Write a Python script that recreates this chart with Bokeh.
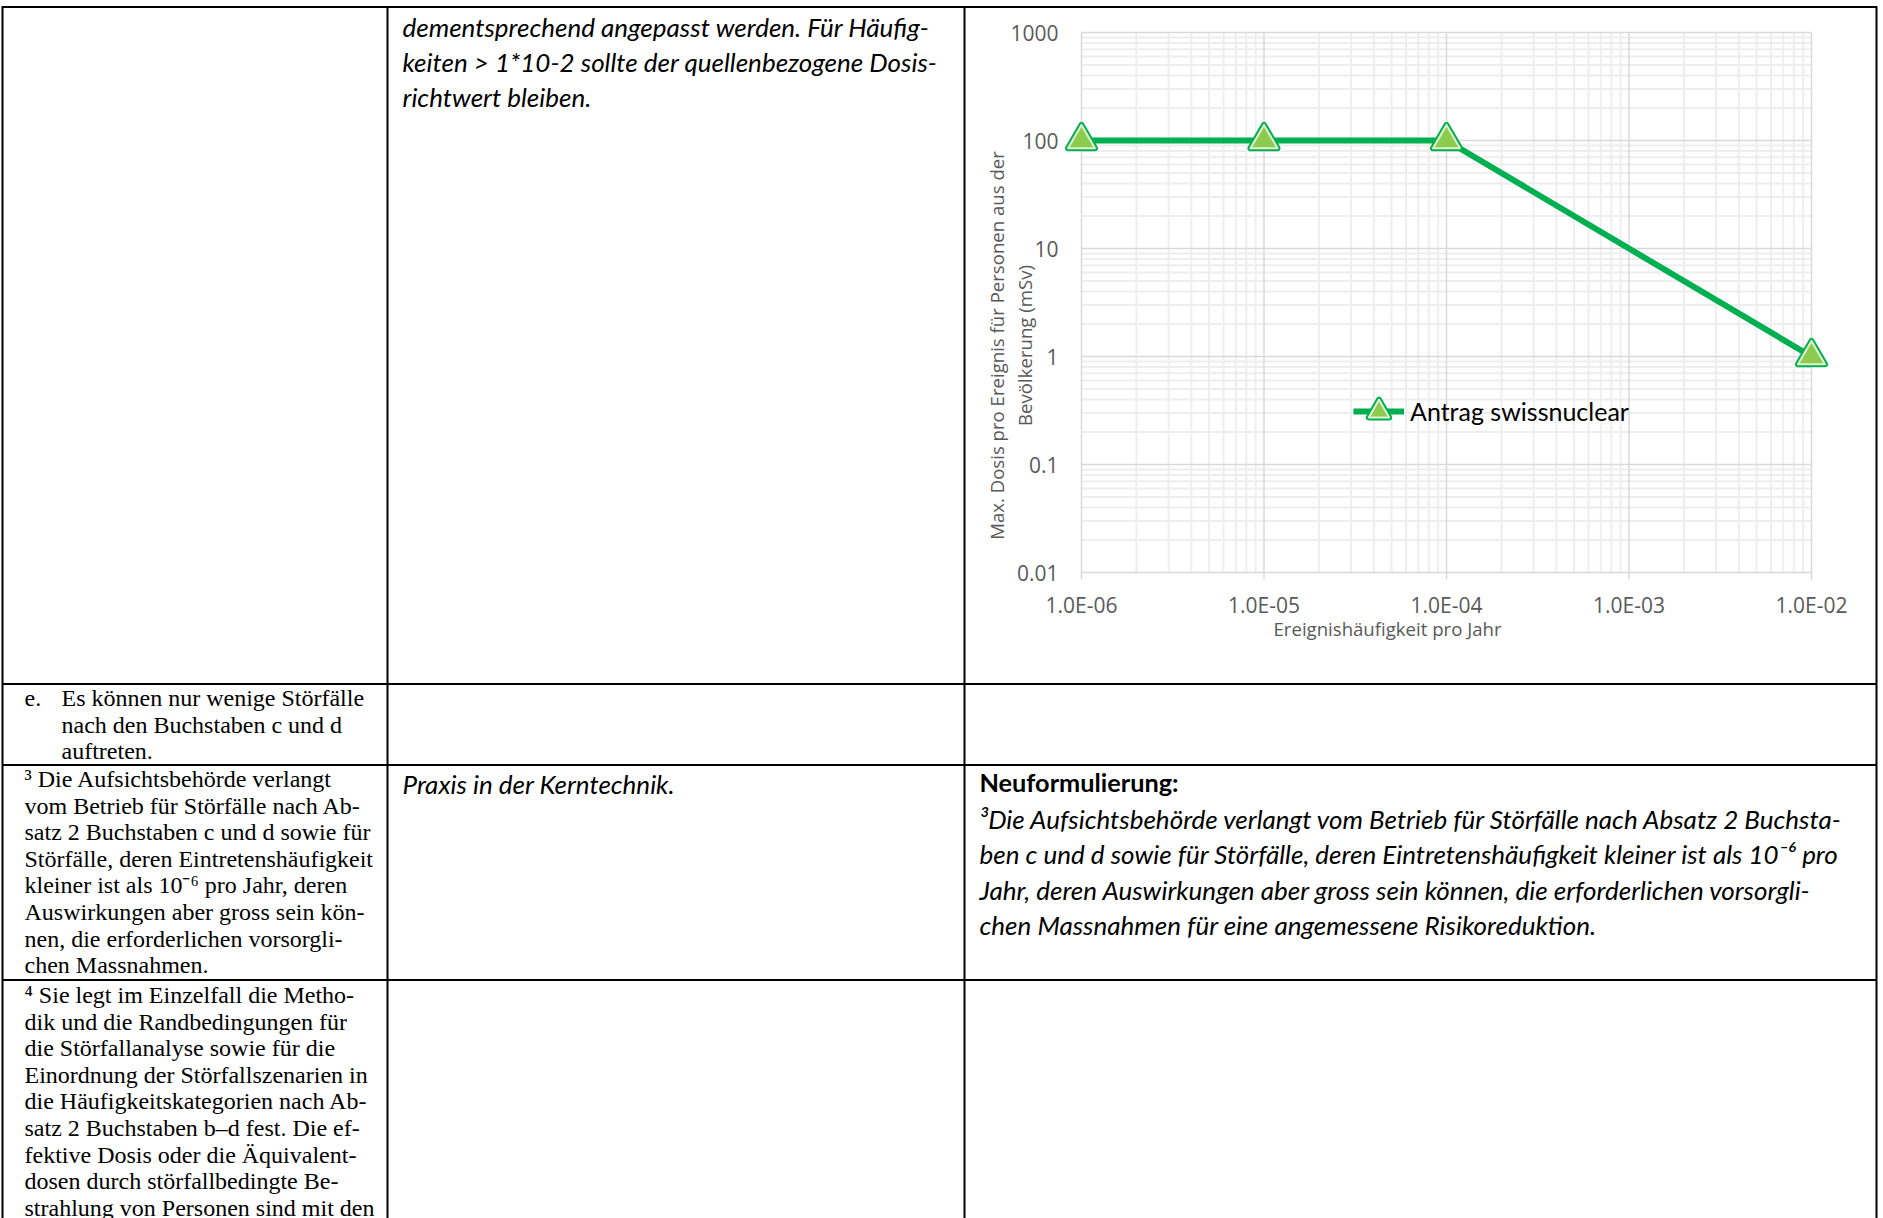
import math

from bokeh.core.properties import value
from bokeh.embed import file_html
from bokeh.models import Legend, LegendItem, LogScale, Range1d
from bokeh.plotting import figure
from bokeh.resources import INLINE

W, H = 1883, 1218

# ---------------------------------------------------------------- chart data
freq = [1e-6, 1e-5, 1e-4, 1e-2]          # Ereignishäufigkeit pro Jahr
dose = [100, 100, 100, 1]                # max. Dosis (mSv)
series_name = "Antrag swissnuclear"

x_ticks = [1e-6, 1e-5, 1e-4, 1e-3, 1e-2]
x_tick_labels = ["1.0E-06", "1.0E-05", "1.0E-04", "1.0E-03", "1.0E-02"]
y_ticks = [0.01, 0.1, 1, 10, 100, 1000]
y_tick_labels = ["0.01", "0.1", "1", "10", "100", "1000"]

x_title = "Ereignishäufigkeit pro Jahr"
y_title = ["Max. Dosis pro Ereignis für Personen aus der", "Bevölkerung (mSv)"]

# ---------------------------------------------------------------- table text
mid_top = [
    "dementsprechend angepasst werden. Für Häufig-",
    "keiten > 1*10-2 sollte der quellenbezogene Dosis-",
    "richtwert bleiben.",
]
row2_item = "e."
row2_left = [
    "Es können nur wenige Störfälle",
    "nach den Buchstaben c und d",
    "auftreten.",
]
row3_left = [
    "³ Die Aufsichtsbehörde verlangt",
    "vom Betrieb für Störfälle nach Ab-",
    "satz 2 Buchstaben c und d sowie für",
    "Störfälle, deren Eintretenshäufigkeit",
    "kleiner ist als 10⁻⁶ pro Jahr, deren",
    "Auswirkungen aber gross sein kön-",
    "nen, die erforderlichen vorsorgli-",
    "chen Massnahmen.",
]
row3_mid = "Praxis in der Kerntechnik."
row3_right_head = "Neuformulierung:"
row3_right = [
    "³Die Aufsichtsbehörde verlangt vom Betrieb für Störfälle nach Absatz 2 Buchsta-",
    "ben c und d sowie für Störfälle, deren Eintretenshäufigkeit kleiner ist als 10⁻⁶ pro",
    "Jahr, deren Auswirkungen aber gross sein können, die erforderlichen vorsorgli-",
    "chen Massnahmen für eine angemessene Risikoreduktion.",
]
row4_left = [
    "⁴ Sie legt im Einzelfall die Metho-",
    "dik und die Randbedingungen für",
    "die Störfallanalyse sowie für die",
    "Einordnung der Störfallszenarien in",
    "die Häufigkeitskategorien nach Ab-",
    "satz 2 Buchstaben b–d fest. Die ef-",
    "fektive Dosis oder die Äquivalent-",
    "dosen durch störfallbedingte Be-",
    "strahlung von Personen sind mit den",
]

# ---------------------------------------------------------------- layout
TABLE_X = [2, 387, 964, 1876]          # vertical rules
TABLE_Y = [6.5, 683.5, 764.5, 979.5]   # horizontal rules
SERIF = value("Liberation Serif")
SANS = value("Lato")
CHART_FONT = value("Open Sans")
SERIF_SIZE = "24px"
SANS_SIZE = "26px"
SERIF_LEAD = 26.6
SANS_LEAD = 35.6

# chart plot area on the page (pixels of first/last tick)
PX0, PX1 = 1081, 1811
PY0, PY1 = 572, 32

lx0, lx1 = math.log10(x_ticks[0]), math.log10(x_ticks[-1])
xppd = (PX1 - PX0) / (lx1 - lx0)
ly0, ly1 = math.log10(y_ticks[0]), math.log10(y_ticks[-1])
yppd = (PY0 - PY1) / (ly1 - ly0)

p = figure(
    width=W, height=H,
    x_range=Range1d(0, W), y_range=Range1d(H, 0),
    output_backend="svg", toolbar_location=None,
    x_axis_location=None, y_axis_location=None,
    min_border=0,
)
p.grid.visible = False
p.outline_line_color = None
p.background_fill_color = "white"
p.border_fill_color = "white"

p.extra_x_ranges = {"fx": Range1d(10 ** (lx0 - PX0 / xppd), 10 ** (lx1 + (W - PX1) / xppd))}
p.extra_x_scales = {"fx": LogScale()}
p.extra_y_ranges = {"fy": Range1d(10 ** (ly0 - (H - PY0) / yppd), 10 ** (ly1 + PY1 / yppd))}
p.extra_y_scales = {"fy": LogScale()}

LOG = dict(x_range_name="fx", y_range_name="fy")

# ---- grid: minor lines, then decades
minor_x = [m * t for t in x_ticks[:-1] for m in range(2, 10)]
minor_y = [m * t for t in y_ticks[:-1] for m in range(2, 10)]
ylo, yhi = y_ticks[0], y_ticks[-1]
xlo, xhi = x_ticks[0], x_ticks[-1]

p.segment(x0=minor_x, x1=minor_x, y0=[ylo] * len(minor_x), y1=[yhi] * len(minor_x),
          line_color="#eeeeee", line_width=2, **LOG)
p.segment(x0=[xlo] * len(minor_y), x1=[xhi] * len(minor_y), y0=minor_y, y1=minor_y,
          line_color="#eeeeee", line_width=2, **LOG)
p.segment(x0=x_ticks, x1=x_ticks, y0=[ylo] * len(x_ticks), y1=[yhi] * len(x_ticks),
          line_color="#d9d9d9", line_width=1.5, **LOG)
p.segment(x0=[xlo] * len(y_ticks), x1=[xhi] * len(y_ticks), y0=y_ticks, y1=y_ticks,
          line_color="#d9d9d9", line_width=1.5, **LOG)
# small tick marks below the horizontal axis
tick_end = ylo * 10 ** (-7 / yppd)
p.segment(x0=x_ticks, x1=x_ticks, y0=[ylo] * len(x_ticks), y1=[tick_end] * len(x_ticks),
          line_color="#d9d9d9", line_width=1.5, **LOG)

# ---- series
line_r = p.line(freq, dose, line_color="#00B050", line_width=6, **LOG)
mk_outer = p.scatter(freq, dose, marker="triangle", size=27,
                     fill_color="#00B050", line_color="#00B050",
                     line_width=6, line_join="round", **LOG)
mk_inner = p.scatter(freq, dose, marker="triangle", size=27,
                     fill_color="#8CCB4E", line_color="#E4F3D2",
                     line_width=2, line_join="round", **LOG)

legend = Legend(
    items=[LegendItem(label=series_name, renderers=[line_r, mk_outer, mk_inner])],
    location=(1353, H - 437),
    glyph_width=51, glyph_height=52,
    label_standoff=6, padding=0, margin=0, spacing=0,
    label_text_font="Lato", label_text_font_size="25px", label_text_color="black",
    border_line_color=None, background_fill_alpha=0,
)
p.add_layout(legend)

# ---- tick labels and axis titles
p.text(x=x_ticks, y=[604] * len(x_ticks), text=x_tick_labels, x_range_name="fx",
       text_align="center", text_baseline="middle",
       text_font=CHART_FONT, text_font_size="21px", text_color="#595959")
p.text(x=[1058] * len(y_ticks), y=y_ticks, text=y_tick_labels, y_range_name="fy",
       text_align="right", text_baseline="middle",
       text_font=CHART_FONT, text_font_size="21px", text_color="#595959")
p.text(x=[1387], y=[628], text=[x_title], text_align="center", text_baseline="middle",
       text_font=CHART_FONT, text_font_size="18.6px", text_color="#595959")
p.text(x=[996, 1024], y=[345, 345], text=y_title, angle=math.pi / 2,
       text_align="center", text_baseline="middle",
       text_font=CHART_FONT, text_font_size="18.6px", text_color="#595959")

# ---- table rules
x_left, x_right = TABLE_X[0], TABLE_X[-1]
p.segment(x0=[x_left] * len(TABLE_Y), x1=[x_right] * len(TABLE_Y), y0=TABLE_Y, y1=TABLE_Y,
          line_color="black", line_width=2)
p.segment(x0=TABLE_X, x1=TABLE_X, y0=[TABLE_Y[0] - 1] * len(TABLE_X), y1=[H] * len(TABLE_X),
          line_color="black", line_width=2)


def lines(xs, y0, lead, texts, **kw):
    p.text(x=[xs] * len(texts), y=[y0 + i * lead for i in range(len(texts))], text=texts,
           text_align="left", text_baseline="alphabetic", text_color="black", **kw)


serif = dict(text_font=SERIF, text_font_size=SERIF_SIZE)
sans_it = dict(text_font=SANS, text_font_size=SANS_SIZE, text_font_style="italic")

lines(402, 26, 35, mid_top, **sans_it)
lines(24, 697.5, SERIF_LEAD, [row2_item], **serif)
lines(61, 697.5, SERIF_LEAD, row2_left, **serif)
lines(24, 778.5, SERIF_LEAD, row3_left, **serif)
lines(402, 783, SANS_LEAD, [row3_mid], **sans_it)
lines(979, 781.5, SANS_LEAD, [row3_right_head], text_font=SANS, text_font_size="25.3px",
      text_font_style="bold")
lines(979, 818, SANS_LEAD, row3_right, **sans_it)
lines(24, 994.5, SERIF_LEAD, row4_left, **serif)

open("out.html", "w").write(file_html(p, INLINE))
